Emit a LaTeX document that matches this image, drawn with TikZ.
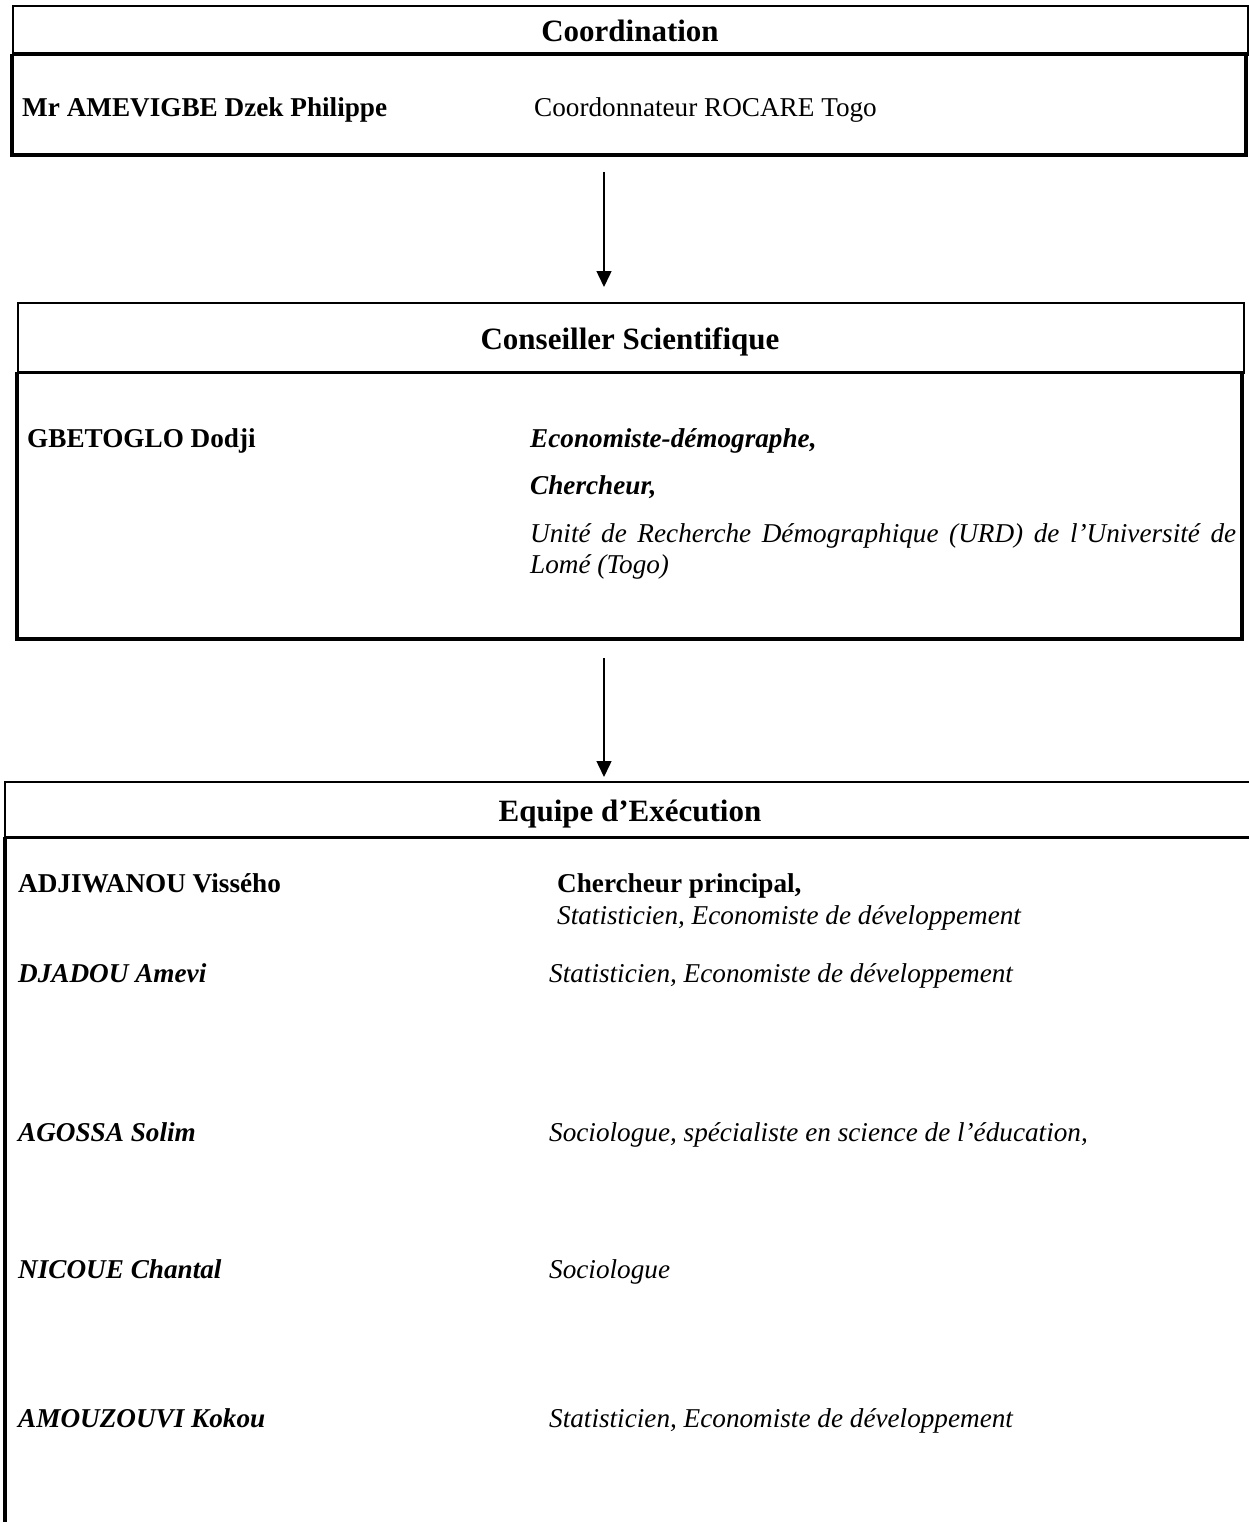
\documentclass[tikz,border=0pt]{standalone}
\usepackage{fontspec}
\setmainfont{Liberation Serif}
\usetikzlibrary{arrows.meta}
\begin{document}
\begin{tikzpicture}[x=1pt,y=-1pt,
  txt/.style={anchor=base west, inner sep=0pt, font=\fontsize{27.2}{31.3}\selectfont},
  head/.style={anchor=base, inner sep=0pt, font=\fontsize{31}{36}\selectfont\bfseries},
  hdrbox/.style={draw, line width=2pt, inner sep=0pt, anchor=north west},
  thickline/.style={line width=4pt, line join=miter},
  divline/.style={line width=3pt},
  arr/.style={line width=1.5pt, -{Triangle[width=15pt,length=16pt]}}]
\useasboundingbox (0,0) rectangle (1248,1522);

% ---------- Box 1 : Coordination ----------
\node[hdrbox, minimum width=1235pt, minimum height=49pt] (h1) at (12,5) {};
\draw[thickline] (12,54) -- (12,155) -- (1246,155) -- (1246,54);
\draw[divline] (12,54) -- (1247,54);
\node[head] (t1) at (630,42) {Coordination};
\node[txt, font=\fontsize{27.2}{31.3}\selectfont\bfseries] (n1) at (22,117) {Mr AMEVIGBE Dzek Philippe};
\node[txt] (r1) at (534,117) {Coordonnateur ROCARE Togo};

% ---------- Arrow 1 ----------
\coordinate (a1s) at (604,172);
\coordinate (a1e) at (604,287);
\draw[arr] (a1s) -- (a1e);

% ---------- Box 2 : Conseiller Scientifique ----------
\node[hdrbox, minimum width=1226pt, minimum height=70pt] (h2) at (17,302) {};
\draw[thickline] (17,372) -- (17,639) -- (1242,639) -- (1242,372);
\draw[divline] (17,372) -- (1243,372);
\node[head] (t2) at (630,349) {Conseiller Scientifique};
\node[txt, font=\fontsize{27.2}{31.3}\selectfont\bfseries] (n2) at (27,447) {GBETOGLO Dodji};
\node[txt, font=\fontsize{27.2}{31.3}\selectfont\bfseries\itshape] (r2a) at (530,447) {Economiste-démographe,};
\node[txt, font=\fontsize{27.2}{31.3}\selectfont\bfseries\itshape] (r2b) at (530,494) {Chercheur,};
\node[txt, font=\fontsize{27.2}{31.3}\selectfont\itshape, text width=706pt, align=justify] (r2c) at (530,542)
  {Unité de Recherche Démographique (URD) de l’Université de Lomé (Togo)};

% ---------- Arrow 2 ----------
\coordinate (a2s) at (604,658);
\coordinate (a2e) at (604,777);
\draw[arr] (a2s) -- (a2e);

% ---------- Box 3 : Equipe d'Exécution ----------
\draw[line width=2pt] (1260,782) -- (5,782) -- (5,837);
\draw[divline] (5,837) -- (1260,837);
\draw[thickline] (5,837) -- (5,1540);
\node[head] (t3) at (630,821) {Equipe d’Exécution};

\node[txt, font=\fontsize{27.2}{31.3}\selectfont\bfseries] (m1) at (18,892) {ADJIWANOU Vissého};
\node[txt, font=\fontsize{27.2}{31.3}\selectfont\bfseries] (q1a) at (557,892) {Chercheur principal,};
\node[txt, font=\fontsize{27.2}{31.3}\selectfont\itshape] (q1b) at (557,924) {Statisticien, Economiste de développement};

\node[txt, font=\fontsize{27.2}{31.3}\selectfont\bfseries\itshape] (m2) at (18,982) {DJADOU Amevi};
\node[txt, font=\fontsize{27.2}{31.3}\selectfont\itshape] (q2) at (549,982) {Statisticien, Economiste de développement};

\node[txt, font=\fontsize{27.2}{31.3}\selectfont\bfseries\itshape] (m3) at (18,1141) {AGOSSA Solim};
\node[txt, font=\fontsize{27.2}{31.3}\selectfont\itshape] (q3) at (549,1141) {Sociologue, spécialiste en science de l’éducation,};

\node[txt, font=\fontsize{27.2}{31.3}\selectfont\bfseries\itshape] (m4) at (18,1278) {NICOUE Chantal};
\node[txt, font=\fontsize{27.2}{31.3}\selectfont\itshape] (q4) at (549,1278) {Sociologue};

\node[txt, font=\fontsize{27.2}{31.3}\selectfont\bfseries\itshape] (m5) at (18,1427) {AMOUZOUVI Kokou};
\node[txt, font=\fontsize{27.2}{31.3}\selectfont\itshape] (q5) at (549,1427) {Statisticien, Economiste de développement};
\end{tikzpicture}
\end{document}
